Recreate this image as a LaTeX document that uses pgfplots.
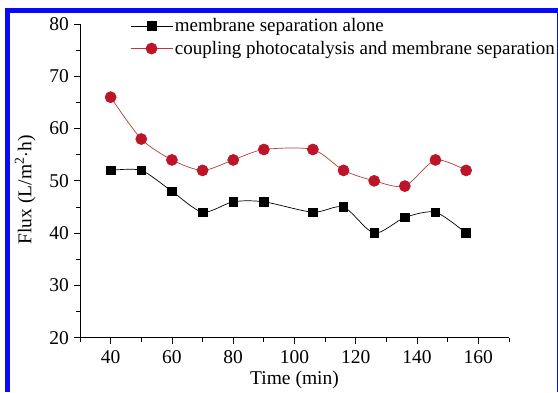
\documentclass[border=0pt]{standalone}
\usepackage{pgfplots}
\pgfplotsset{compat=1.18}
\usepackage{fontspec}
\setmainfont{Liberation Serif}
\definecolor{frameblue}{RGB}{10,10,250}
\definecolor{dotred}{RGB}{190,20,40}
\definecolor{linered}{RGB}{180,60,60}
\begin{document}
\begin{tikzpicture}[x=1bp,y=1bp]
\useasboundingbox (0,0) rectangle (558,392);
\fill[white] (0,0) rectangle (558,392);
\begin{axis}[
  at={(80bp,54.3bp)}, anchor=south west,
  scale only axis, width=429bp, height=313.7bp,
  xmin=30, xmax=170, ymin=20, ymax=80,
  axis lines=left, axis line style={-, line width=0.9pt},
  xtick={40,60,...,160}, minor xtick={30,50,...,170},
  ytick={20,30,...,80}, minor ytick={25,35,...,75},
  tick align=outside,
  major tick length=6bp, minor tick length=4bp,
  tick style={line width=0.8pt, black},
  font=\fontsize{19.5bp}{22bp}\selectfont,
  /pgf/number format/assume math mode=true,
  xticklabel style={yshift=-3bp},
  yticklabel style={xshift=-1.5bp},
  xlabel={Time (min)}, ylabel={Flux (L/m\textsuperscript{2}$\cdot$h)},
  xlabel style={at={(axis description cs:0.5,0)}, anchor=base, yshift=-46.3bp},
  ylabel style={at={(axis description cs:-0.128,0.471)}, anchor=center},
  clip=false,
  legend cell align=left,
  legend style={at={(axis description cs:0.1166,1.0244)}, anchor=north west, draw=none, fill=none,
    inner sep=0pt, row sep=4bp, font=\fontsize{19bp}{22bp}\selectfont,
    /tikz/every even column/.append style={column sep=4bp}},
  legend image code/.code={\draw[mark repeat=2,mark phase=2,#1] plot coordinates {(0bp,0bp)(21bp,0bp)(42bp,0bp)};},
]
\addplot[black, line width=0.7pt, smooth, tension=0.45, mark=square*, mark size=4.3bp, mark options={solid, fill=black}]
coordinates {(40,52)(50,52)(60,48)(70,44)(80,46)(90,46)(106,44)(116,45)(126,40)(136,43)(146,44)(156,40)};
\addlegendentry{membrane separation alone}
\addplot[linered, line width=0.7pt, smooth, tension=0.45, mark=*, mark size=5.5bp, mark options={solid, fill=dotred, draw=dotred}]
coordinates {(40,66)(50,58)(60,54)(70,52)(80,54)(90,56)(106,56)(116,52)(126,50)(136,49)(146,54)(156,52)};
\addlegendentry{coupling photocatalysis and membrane separation}
\end{axis}
\fill[frameblue] (5,0) rectangle (10,384);
\fill[frameblue] (5,379) rectangle (558,384);
\fill[frameblue] (556.5,0) rectangle (558,384);
\end{tikzpicture}
\end{document}
